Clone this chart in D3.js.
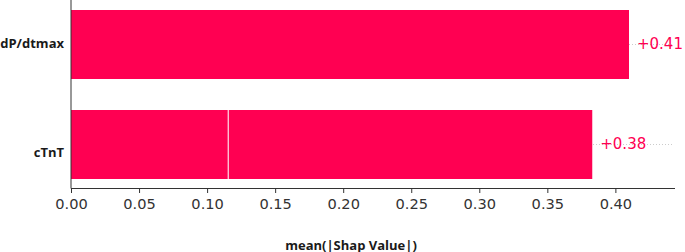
<!DOCTYPE html>
<html><head><meta charset="utf-8">
<script src="https://cdn.jsdelivr.net/npm/d3@7"></script>
<style>body{margin:0;background:#fff}svg{display:block}</style>
</head><body>
<svg id="chart" width="685" height="252"></svg>
<script>
const features = ["dP/dtmax", "cTnT"];
const segment1 = [0.410, 0.1155];
const segment2 = [0.000, 0.2675];
const xTicks = [0.00, 0.05, 0.10, 0.15, 0.20, 0.25, 0.30, 0.35, 0.40];
const xLabel = "mean(|Shap Value|)";

const barColor = "#ff0052";
const svg = d3.select("#chart");
const x = d3.scaleLinear().domain([0, 0.4438]).range([71, 675]);
const y = d3.scaleBand().domain(features).range([-5.5, 194.5]).paddingInner(0.31).paddingOuter(0.155);
const axisY = 188;

const rows = features.map((f, i) => ({f, a: segment1[i], b: segment2[i], total: segment1[i] + segment2[i]}));

// dotted guide lines
svg.append("g").selectAll("line").data(rows).join("line")
  .attr("x1", x(0)).attr("x2", 672)
  .attr("y1", d => y(d.f) + y.bandwidth()/2).attr("y2", d => y(d.f) + y.bandwidth()/2)
  .attr("stroke", "#cccccc").attr("stroke-width", 1).attr("stroke-dasharray", "1,2");

// bars (stacked segments)
const g = svg.append("g");
rows.forEach(d => {
  const segs = [[0, d.a], [d.a, d.a + d.b]].filter(s => s[1] > s[0]);
  segs.forEach(s => {
    g.append("rect")
      .attr("x", x(s[0])).attr("y", y(d.f))
      .attr("width", x(s[1]) - x(s[0])).attr("height", y.bandwidth())
      .attr("fill", barColor);
  });
  if (d.b > 0) {
    g.append("line").attr("x1", x(d.a)).attr("x2", x(d.a))
      .attr("y1", y(d.f)).attr("y2", y(d.f) + y.bandwidth())
      .attr("stroke", "#fff").attr("stroke-width", 1);
  }
});

// value labels
svg.append("g").selectAll("text").data(rows).join("text")
  .attr("x", d => x(d.total) + 8)
  .attr("y", d => y(d.f) + y.bandwidth()/2)
  .attr("dy", "0.31em")
  .attr("fill", barColor)
  .style("font-family", "DejaVu Sans").style("font-size", "15px")
  .text(d => "+" + d3.format(".2f")(d.total));

// x axis
const xAxis = d3.axisBottom(x).tickValues(xTicks).tickFormat(d3.format(".2f")).tickSizeOuter(0).tickSize(5).tickPadding(5.5);
const gx = svg.append("g").attr("transform", `translate(0,${axisY})`).call(xAxis);
gx.select(".domain").attr("stroke", "#333").attr("d", `M${x(0)},0.5H675`);
gx.selectAll(".tick line").attr("stroke", "#333");
gx.selectAll(".tick text").attr("fill", "#333").style("font-family", "DejaVu Sans").style("font-size", "14.6px");

// y axis spine
svg.append("line").attr("x1", x(0)).attr("x2", x(0)).attr("y1", 0).attr("y2", axisY + 0.5)
  .attr("stroke", "#333").attr("stroke-width", 1);

// y labels
const yLabelDy = {"dP/dtmax": 3.5, "cTnT": 12.2};
svg.append("g").selectAll("text").data(features).join("text")
  .attr("x", 64)
  .attr("y", f => y(f) + y.bandwidth()/2 + yLabelDy[f])
  .attr("text-anchor", "end")
  .attr("fill", "#1a1a1a")
  .style("font-family", "Open Sans").style("font-weight", "700").style("font-size", "13px")
  .text(f => f);

// x label
svg.append("text").attr("x", 351).attr("y", 249.5)
  .attr("text-anchor", "middle").attr("fill", "#1a1a1a")
  .style("font-family", "Open Sans").style("font-weight", "700").style("font-size", "13px")
  .text(xLabel);
</script>
</body></html>
